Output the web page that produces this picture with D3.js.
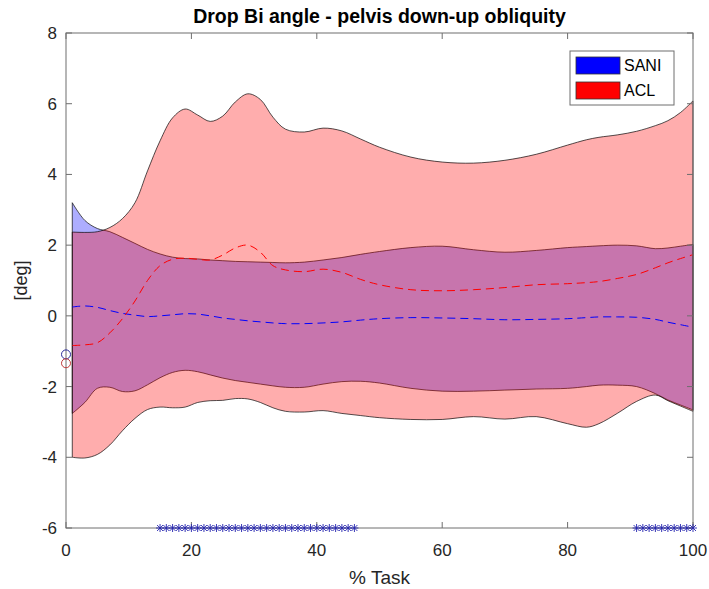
<!DOCTYPE html>
<html>
<head>
<meta charset="utf-8">
<script src="https://cdn.jsdelivr.net/npm/d3@7"></script>
<style>
  body { margin: 0; background: #fff; }
  text { font-family: "Liberation Sans", Arial, sans-serif; }
</style>
</head>
<body>
<div id="chart-area"></div>
<script>
// % task samples shared by every series
const pct = [1, 3, 5, 7, 9, 11, 13, 15, 17, 19, 21, 23, 25, 27, 29, 31, 33, 35, 38, 41,
  44, 47, 50, 55, 60, 65, 70, 75, 80, 83, 85, 88, 91, 94, 96, 98, 100]

// SANI band (mean +/- sd) and mean
const saniUpper = [3.2, 2.7, 2.47, 2.38, 2.22, 2.05, 1.88, 1.75, 1.66, 1.62, 1.61, 1.58, 1.56, 1.54, 1.53, 1.52, 1.51, 1.5, 1.52, 1.58,
  1.65, 1.74, 1.82, 1.93, 1.97, 1.87, 1.8, 1.85, 1.93, 1.96, 1.98, 2.0, 1.98, 1.9, 1.92, 1.97, 2.02]
const saniMean = [0.25, 0.28, 0.24, 0.15, 0.07, 0.02, -0.02, 0.0, 0.03, 0.06, 0.05, 0.0, -0.06, -0.1, -0.14, -0.17, -0.2, -0.22, -0.22, -0.2,
  -0.17, -0.12, -0.08, -0.05, -0.06, -0.08, -0.11, -0.1, -0.08, -0.05, -0.03, -0.03, -0.04, -0.1, -0.18, -0.25, -0.32]
const saniLower = [-2.76, -2.45, -2.05, -2.02, -2.14, -2.12, -1.95, -1.75, -1.6, -1.54, -1.58, -1.67, -1.76, -1.83, -1.88, -1.93, -1.98, -2.02, -2.02, -1.93,
  -1.86, -1.85, -1.9, -2.05, -2.13, -2.13, -2.1, -2.07, -2.05, -2.0, -1.96, -1.96, -2.0, -2.2, -2.38, -2.52, -2.66]

// ACL band and mean
const aclUpper = [2.37, 2.36, 2.38, 2.5, 2.75, 3.2, 4.1, 4.95, 5.6, 5.85, 5.68, 5.5, 5.65, 6.05, 6.28, 6.12, 5.62, 5.28, 5.2, 5.31,
  5.23, 5.0, 4.77, 4.49, 4.35, 4.32, 4.4, 4.57, 4.83, 4.98, 5.05, 5.12, 5.22, 5.38, 5.52, 5.75, 6.08]
const aclMean = [-0.84, -0.82, -0.76, -0.48, -0.08, 0.42, 1.0, 1.42, 1.6, 1.63, 1.6, 1.58, 1.72, 1.92, 2.0, 1.8, 1.42, 1.3, 1.25, 1.32,
  1.23, 1.03, 0.88, 0.74, 0.71, 0.74, 0.8, 0.88, 0.91, 0.94, 0.97, 1.06, 1.17, 1.36, 1.5, 1.62, 1.73]
const aclLower = [-4.0, -4.02, -3.92, -3.65, -3.25, -2.9, -2.65, -2.58, -2.6, -2.58, -2.45, -2.4, -2.39, -2.34, -2.35, -2.45, -2.6, -2.7, -2.72, -2.68,
  -2.76, -2.82, -2.88, -2.93, -2.93, -2.85, -2.92, -2.85, -3.05, -3.15, -3.05, -2.75, -2.42, -2.24, -2.4, -2.55, -2.7]

// values at 0 % (circles)
const startValues = [{name: "SANI", v: -1.09}, {name: "ACL", v: -1.34}]

// significant samples (asterisks on the bottom axis)
const sigPct = [15, 16, 17, 18, 19, 20, 21, 22, 23, 24, 25, 26, 27, 28, 29, 30, 31, 32, 33, 34,
  35, 36, 37, 38, 39, 40, 41, 42, 43, 44, 45, 46, 91, 92, 93, 94, 95, 96, 97, 98, 99, 100]

const xTicks = [0, 20, 40, 60, 80, 100]
const yTicks = [-6, -4, -2, 0, 2, 4, 6, 8]

const COLORS = {SANI: "#0000ff", ACL: "#ff0000"}

const MARGIN = {LEFT: 66, RIGHT: 16, TOP: 33, BOTTOM: 61}
const WIDTH = 709 - MARGIN.LEFT - MARGIN.RIGHT
const HEIGHT = 589 - MARGIN.TOP - MARGIN.BOTTOM

const svg = d3.select("#chart-area").append("svg")
  .attr("width", 709)
  .attr("height", 589)

const g = svg.append("g")
  .attr("transform", `translate(${MARGIN.LEFT}, ${MARGIN.TOP})`)

const x = d3.scaleLinear().domain([0, 100]).range([0, WIDTH])
const y = d3.scaleLinear().domain([-6, 8]).range([HEIGHT, 0])

const rows = pct.map((p, i) => ({
  p,
  saniUp: saniUpper[i], saniLo: saniLower[i], saniM: saniMean[i],
  aclUp: aclUpper[i], aclLo: aclLower[i], aclM: aclMean[i]
}))

const curve = d3.curveCatmullRom.alpha(0.5)

function band(up, lo) {
  return d3.area()
    .x(d => x(d.p))
    .y0(d => y(d[lo]))
    .y1(d => y(d[up]))
    .curve(curve)
}

// bands
g.append("path")
  .datum(rows)
  .attr("d", d => band("saniUp", "saniLo")(d) + "Z")
  .attr("fill", COLORS.SANI)
  .attr("fill-opacity", 0.32)
  .attr("stroke", "#000")
  .attr("stroke-width", 0.8)
  .attr("stroke-opacity", 0.85)

g.append("path")
  .datum(rows)
  .attr("d", d => band("aclUp", "aclLo")(d) + "Z")
  .attr("fill", COLORS.ACL)
  .attr("fill-opacity", 0.32)
  .attr("stroke", "#000")
  .attr("stroke-width", 0.8)
  .attr("stroke-opacity", 0.85)

// mean lines
const meanLine = key => d3.line().x(d => x(d.p)).y(d => y(d[key])).curve(curve)

g.append("path")
  .datum(rows)
  .attr("d", meanLine("saniM"))
  .attr("fill", "none")
  .attr("stroke", COLORS.SANI)
  .attr("stroke-width", 1)
  .attr("stroke-dasharray", "8,5")

g.append("path")
  .datum(rows)
  .attr("d", meanLine("aclM"))
  .attr("fill", "none")
  .attr("stroke", COLORS.ACL)
  .attr("stroke-width", 1)
  .attr("stroke-dasharray", "8,5")

// axes box with inward ticks on all sides
const AXIS_COLOR = "#6e6e6e"
g.append("rect")
  .attr("width", WIDTH)
  .attr("height", HEIGHT)
  .attr("fill", "none")
  .attr("stroke", AXIS_COLOR)
  .attr("stroke-width", 1)

const TICK = 6
xTicks.forEach(t => {
  g.append("line").attr("x1", x(t)).attr("x2", x(t)).attr("y1", HEIGHT).attr("y2", HEIGHT - TICK)
    .attr("stroke", AXIS_COLOR)
  g.append("line").attr("x1", x(t)).attr("x2", x(t)).attr("y1", 0).attr("y2", TICK)
    .attr("stroke", AXIS_COLOR)
  g.append("text")
    .attr("x", x(t))
    .attr("y", HEIGHT + 28)
    .attr("text-anchor", "middle")
    .attr("font-size", "17px")
    .attr("fill", "#262626")
    .text(t)
})

yTicks.forEach(t => {
  g.append("line").attr("x1", 0).attr("x2", TICK).attr("y1", y(t)).attr("y2", y(t))
    .attr("stroke", AXIS_COLOR)
  g.append("line").attr("x1", WIDTH).attr("x2", WIDTH - TICK).attr("y1", y(t)).attr("y2", y(t))
    .attr("stroke", AXIS_COLOR)
  g.append("text")
    .attr("x", -9)
    .attr("y", y(t))
    .attr("dy", "0.35em")
    .attr("text-anchor", "end")
    .attr("font-size", "17px")
    .attr("fill", "#262626")
    .text(t)
})

// start circles at 0 %
g.selectAll(".start")
  .data(startValues)
  .enter().append("circle")
  .attr("class", "start")
  .attr("cx", x(0))
  .attr("cy", d => y(d.v))
  .attr("r", 4.5)
  .attr("fill", "none")
  .attr("stroke", d => d.name === "SANI" ? "#2a2a9a" : "#c03a3a")
  .attr("stroke-width", 1)

// asterisk markers
const star = g.selectAll(".sig")
  .data(sigPct)
  .enter().append("g")
  .attr("class", "sig")
  .attr("transform", d => `translate(${x(d)}, ${y(-6)})`)
  .attr("stroke", "#2424b0")
  .attr("stroke-width", 0.9)
const S = 4
star.append("line").attr("x1", -S).attr("x2", S).attr("y1", 0).attr("y2", 0)
star.append("line").attr("x1", 0).attr("x2", 0).attr("y1", -S).attr("y2", S)
star.append("line").attr("x1", -S * 0.75).attr("x2", S * 0.75).attr("y1", -S * 0.75).attr("y2", S * 0.75)
star.append("line").attr("x1", -S * 0.75).attr("x2", S * 0.75).attr("y1", S * 0.75).attr("y2", -S * 0.75)

// legend
const legend = svg.append("g").attr("transform", "translate(570, 51)")
legend.append("rect")
  .attr("width", 104)
  .attr("height", 54)
  .attr("fill", "#fff")
  .attr("stroke", "#6e6e6e")
  .attr("stroke-width", 1)

const legendItems = ["SANI", "ACL"]
legendItems.forEach((name, i) => {
  legend.append("rect")
    .attr("x", 6)
    .attr("y", 6 + i * 25)
    .attr("width", 44)
    .attr("height", 17)
    .attr("fill", COLORS[name])
    .attr("stroke", "#333")
    .attr("stroke-width", 0.8)
  legend.append("text")
    .attr("x", 54)
    .attr("y", 14.5 + i * 25)
    .attr("dy", "0.35em")
    .attr("font-size", "16px")
    .attr("fill", "#000")
    .text(name)
})

// title and axis labels
svg.append("text")
  .attr("x", MARGIN.LEFT + WIDTH / 2)
  .attr("y", 23)
  .attr("text-anchor", "middle")
  .attr("font-size", "19.5px")
  .attr("font-weight", "bold")
  .attr("fill", "#000")
  .text("Drop Bi angle - pelvis down-up obliquity")

svg.append("text")
  .attr("x", MARGIN.LEFT + WIDTH / 2)
  .attr("y", 584)
  .attr("text-anchor", "middle")
  .attr("font-size", "19px")
  .attr("fill", "#262626")
  .text("% Task")

svg.append("text")
  .attr("transform", `translate(27, ${MARGIN.TOP + HEIGHT / 2}) rotate(-90)`)
  .attr("text-anchor", "middle")
  .attr("font-size", "18px")
  .attr("fill", "#262626")
  .text("[deg]")
</script>
</body>
</html>
